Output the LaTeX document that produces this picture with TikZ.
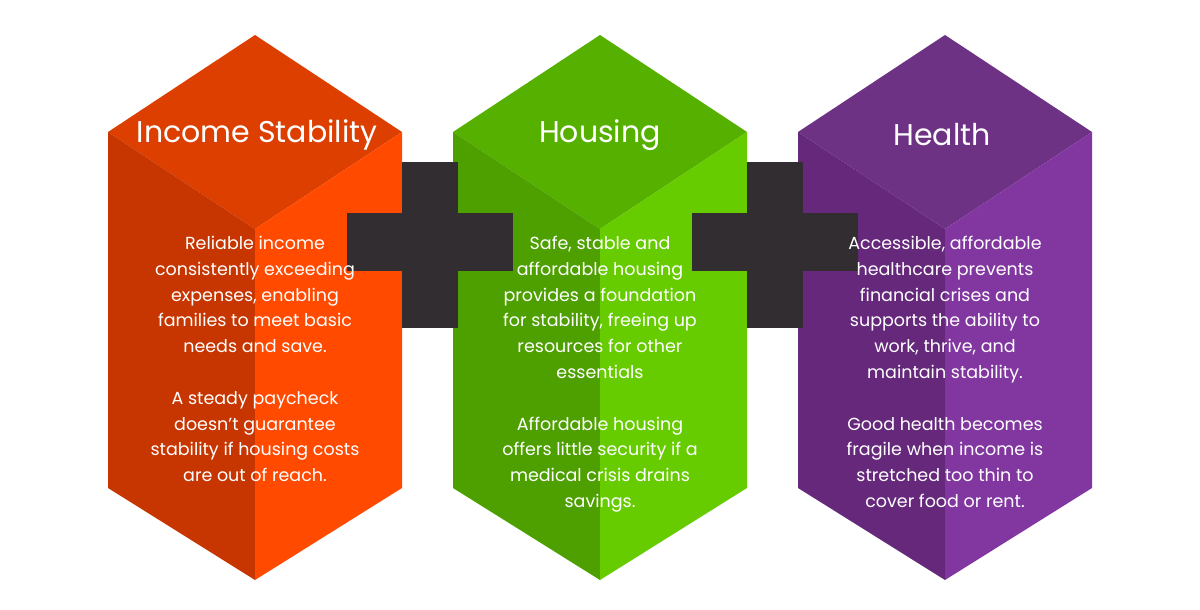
\documentclass[tikz,border=0pt]{standalone}
\usepackage{fontspec}
\setmainfont{Poppins}
\begin{document}
\begin{tikzpicture}[x=1pt,y=-1pt,
  body/.style={text=white,align=center,anchor=north,font=\fontsize{17.5}{25.8}\selectfont,inner sep=0},
  ttl/.style={text=white,font=\fontsize{30}{34}\selectfont,inner sep=0},
  plusc/.style={fill=plusgray}]
\definecolor{plusgray}{HTML}{312D31}
\definecolor{oT}{HTML}{DD3F00}\definecolor{oL}{HTML}{C73600}\definecolor{oR}{HTML}{FF4A00}
\definecolor{gT}{HTML}{55B000}\definecolor{gL}{HTML}{4EA000}\definecolor{gR}{HTML}{66CC00}
\definecolor{pT}{HTML}{6E3285}\definecolor{pL}{HTML}{65287B}\definecolor{pR}{HTML}{8237A0}
\useasboundingbox (0,0) rectangle (1200,610);
\fill[white] (0,0) rectangle (1200,610);
\foreach \cx/\T/\L/\R in {255/oT/oL/oR,600/gT/gL/gR,945/pT/pL/pR}{
  \fill[\T] (\cx,35) -- (\cx+147,132) -- (\cx,229) -- (\cx-147,132) -- cycle;
  \fill[\L] (\cx-147,132) -- (\cx,229) -- (\cx,580) -- (\cx-147,488) -- cycle;
  \fill[\R] (\cx+147,132) -- (\cx,229) -- (\cx,580) -- (\cx+147,488) -- cycle;
}
\foreach \px in {430,775}{
  \fill[plusc] (\px-28,162) rectangle (\px+28,328);
  \fill[plusc] (\px-83,213) rectangle (\px+83,271);
}
\node[ttl] (t1) at (257,135) {Income Stability};
\node[ttl] (t2) at (600,135) {Housing};
\node[ttl] (t3) at (942,135) {Health};
\node[body] (b1) at (255,236) {Reliable income\\consistently exceeding\\expenses, enabling\\families to meet basic\\needs and save.\\[25.8pt]A steady paycheck\\doesn’t guarantee\\stability if housing costs\\are out of reach.};
\node[body] (b2) at (600,236) {Safe, stable and\\affordable housing\\provides a foundation\\for stability, freeing up\\resources for other\\essentials\\[25.8pt]Affordable housing\\offers little security if a\\medical crisis drains\\savings.};
\node[body] (b3) at (945,236) {Accessible, affordable\\healthcare prevents\\financial crises and\\supports the ability to\\work, thrive, and\\maintain stability.\\[25.8pt]Good health becomes\\fragile when income is\\stretched too thin to\\cover food or rent.};
\end{tikzpicture}
\end{document}
